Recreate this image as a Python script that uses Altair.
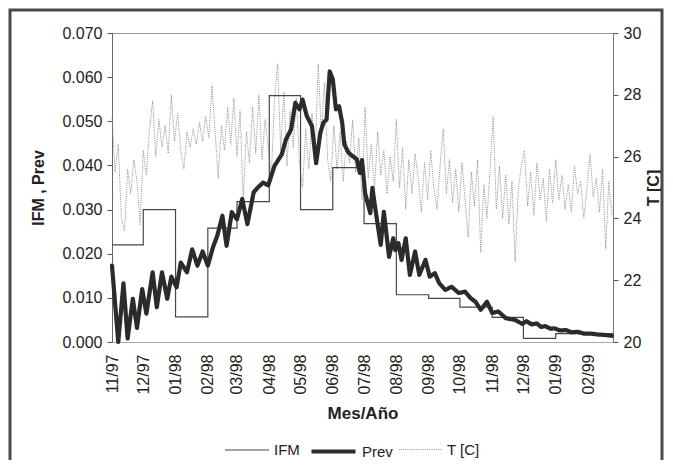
import altair as alt
import pandas as pd

START = pd.Timestamp("1997-11-01")
SERIES = ["IFM", "Prev", "T [C]"]

# IFM: monthly step values (start of each month) + end of record
ifm_dates = ["1997-11-01", "1997-12-01", "1998-01-01", "1998-02-01", "1998-03-01",
             "1998-04-01", "1998-05-01", "1998-06-01", "1998-07-01", "1998-08-01",
             "1998-09-01", "1998-10-01", "1998-11-01", "1998-12-01", "1999-01-01",
             "1999-02-25"]
ifm_values = [0.0220, 0.0300, 0.0057, 0.0258, 0.0318, 0.0558, 0.0300, 0.0395,
              0.0268, 0.0107, 0.0099, 0.0079, 0.0056, 0.0008, 0.0019, 0.0019]

# Prev: day offset from 1997-11-01 and value
prev_days = [0, 6, 11, 15, 20, 24, 29, 33, 39, 43, 48, 53, 57, 62, 66, 72, 77, 82, 87, 92,
             97, 101, 106, 110, 115, 120, 125, 130, 136, 140, 145, 150, 156, 163, 167, 172,
             176, 180, 183, 187, 192, 196, 200, 203, 206, 209, 212, 215, 218, 221, 223, 227,
             231, 235, 238, 240, 243, 248, 250, 253, 258, 261, 266, 270, 272, 275, 278, 282,
             286, 291, 295, 301, 305, 310, 314, 320, 326, 333, 339, 344, 349, 354, 360, 365,
             371, 378, 387,
             394, 398, 403, 408, 412, 416, 421, 425, 430, 436, 441, 447, 453, 460, 466, 473, 480]
prev_values = [0.0173, 0.0000, 0.0133, 0.0008, 0.0098, 0.0032, 0.0120, 0.0064, 0.0158, 0.0079,
               0.0158, 0.0098, 0.0148, 0.0124, 0.0180, 0.0158, 0.0210, 0.0173, 0.0205, 0.0173,
               0.0215, 0.0240, 0.0286, 0.0218, 0.0294, 0.0278, 0.0324, 0.0267, 0.0339, 0.0350,
               0.0361, 0.0355, 0.0399, 0.0425, 0.0459, 0.0482, 0.0542, 0.0527, 0.0549, 0.0512,
               0.0489, 0.0405, 0.0474, 0.0497, 0.0504, 0.0613, 0.0595, 0.0527, 0.0534, 0.0497,
               0.0448, 0.0429,
               0.0421, 0.0414, 0.0383, 0.0412, 0.0337, 0.0292, 0.0349, 0.0299, 0.0220, 0.0295,
               0.0193, 0.0235, 0.0208, 0.0224, 0.0186, 0.0235, 0.0152, 0.0205, 0.0152, 0.0186,
               0.0148, 0.0156, 0.0134, 0.0118, 0.0125, 0.0111, 0.0114, 0.0100, 0.0091, 0.0073,
               0.0091, 0.0066, 0.0069, 0.0054, 0.0050,
               0.0041, 0.0047, 0.0040, 0.0042, 0.0034, 0.0036, 0.0030, 0.0031, 0.0026, 0.0027,
               0.0022, 0.0023, 0.0019, 0.0019, 0.0017, 0.0016, 0.0014]

# T [C]: every third day from 1997-11-01
t_values = [
    27.3, 25.5, 26.4, 24.0, 23.6, 25.6, 24.8, 25.9, 25.2, 23.8, 26.2,
    25.4, 26.9, 27.8, 26.0, 27.2, 26.3, 27.0, 26.1, 28.0, 26.5,
    27.4, 26.2, 25.6, 26.8, 26.3, 26.9, 26.4, 27.1, 26.5, 27.3,
    26.6, 28.3, 26.8, 25.3, 27.0, 26.2, 27.6, 26.4, 27.9,
    26.0, 27.5, 24.6, 26.8, 25.8, 27.6, 26.1, 28.0, 25.9, 27.2, 26.3,
    25.4, 27.8, 29.0, 26.2, 28.1, 25.7, 27.5, 26.3, 27.9, 25.8,
    25.0, 26.9, 25.6, 27.4, 26.0, 29.0, 26.7, 28.4, 25.9, 25.2,
    27.0, 25.6, 26.8, 25.2, 26.5, 25.8, 27.2, 25.5, 26.6, 24.6,
    27.6, 25.3, 26.4, 24.9, 26.8, 25.4, 26.2, 24.8, 26.0, 25.2,
    27.2, 25.0, 26.3, 24.3, 25.9, 24.8, 26.1, 25.3, 24.2, 25.8,
    24.6, 26.2, 25.0, 24.3, 25.7, 26.9, 24.8, 25.9, 24.5, 25.6,
    24.2, 25.8, 24.6, 23.4, 25.5, 24.4, 25.9, 22.9, 25.1, 24.0, 25.6,
    27.3, 24.3, 25.7, 24.0, 25.4, 23.8, 25.2, 22.6, 24.9, 25.7,
    26.2, 24.4, 25.5, 24.1, 25.8, 24.6, 25.3, 23.9, 25.6, 24.5,
    25.9, 24.6, 25.4, 24.3, 25.1, 24.2, 25.7, 24.8, 25.2, 24.0, 25.0,
    26.1, 24.7, 25.3, 24.2, 25.6, 23.0, 25.2, 24.1,
]
t_days = list(range(0, 3 * len(t_values), 3))

month_ticks = [(1997, 11), (1997, 12)] + [(1998, m) for m in range(1, 13)] + [(1999, 1), (1999, 2)]

# ---------------- data frames ----------------
ifm_df = pd.DataFrame({"date": pd.to_datetime(ifm_dates), "value": ifm_values, "serie": "IFM"})
prev_df = pd.DataFrame({"date": START + pd.to_timedelta(prev_days, unit="D"),
                        "value": prev_values, "serie": "Prev"})
t_df = pd.DataFrame({"date": START + pd.to_timedelta(t_days, unit="D"),
                     "temp": t_values, "serie": "T [C]"})

FONT = "Liberation Sans"

x_enc = alt.X(
    "date:T",
    scale=alt.Scale(domain=[alt.DateTime(year=1997, month=11, date=1),
                            alt.DateTime(year=1999, month=2, date=25)]),
    axis=alt.Axis(
        title="Mes/Año", format="%m/%y", labelAngle=270,
        values=[alt.DateTime(year=y, month=m, date=1) for (y, m) in month_ticks],
        ticks=False, labelPadding=12, labelFontSize=16, labelColor="#222",
        titleFontSize=17, titleFontWeight="bold", titlePadding=11, titleColor="#222",
        domainColor="#aaaaaa", grid=False, labelFont=FONT, titleFont=FONT,
    ),
)

color_enc = alt.Color("serie:N", scale=alt.Scale(domain=SERIES, range=["#474747", "#2b2b2b", "#8e8e8e"]),
                      legend=alt.Legend(title=None))
width_enc = alt.StrokeWidth("serie:N", scale=alt.Scale(type="ordinal", domain=SERIES, range=[1.2, 4.2, 1.0]),
                            legend=alt.Legend(title=None))
dash_enc = alt.StrokeDash("serie:N", scale=alt.Scale(domain=SERIES, range=[[1, 0], [1, 0], [1, 1.2]]),
                          legend=alt.Legend(title=None))

left_axis = alt.Axis(
    title="IFM , Prev", orient="left", format=".3f",
    values=[0.0, 0.01, 0.02, 0.03, 0.04, 0.05, 0.06, 0.07],
    tickSize=5, labelPadding=5, labelFontSize=16, labelColor="#222", tickColor="#555",
    domainColor="#666", titleFontSize=16, titleFontWeight="bold", titlePadding=15,
    titleColor="#222", grid=False, labelFont=FONT, titleFont=FONT,
)
right_axis = alt.Axis(
    title="T [C]", orient="right", format="d",
    values=[20, 22, 24, 26, 28, 30],
    tickSize=5, labelPadding=5, labelFontSize=16, labelColor="#222", tickColor="#555",
    domainColor="#777", titleFontSize=16, titleFontWeight="bold", titlePadding=21,
    titleAngle=270, titleColor="#222", grid=False, labelFont=FONT, titleFont=FONT,
)

y_left = alt.Y("value:Q", scale=alt.Scale(domain=[0, 0.07]), axis=left_axis)

ifm = alt.Chart(ifm_df).mark_line(interpolate="step-after").encode(
    x=x_enc, y=y_left, color=color_enc, strokeWidth=width_enc, strokeDash=dash_enc)
prev = alt.Chart(prev_df).mark_line(strokeJoin="round", strokeCap="round").encode(
    x=x_enc, y=y_left, color=color_enc, strokeWidth=width_enc, strokeDash=dash_enc)
temp = alt.Chart(t_df).mark_line().encode(
    x=x_enc,
    y=alt.Y("temp:Q", scale=alt.Scale(domain=[20, 30]), axis=right_axis),
    color=color_enc, strokeWidth=width_enc, strokeDash=dash_enc)

frame = alt.Chart(pd.DataFrame({"k": [0]})).mark_rect(
    fill="transparent", stroke="#4a4a4a", strokeWidth=3
).encode(x=alt.value(-102), x2=alt.value(550), y=alt.value(-23), y2=alt.value(440))

left = alt.layer(ifm, prev)

chart = alt.layer(frame, temp, left).resolve_scale(y="independent").properties(
    width=501, height=309,
    autosize=alt.AutoSizeParams(type="none"),
    padding={"left": 104, "top": 25, "right": 52, "bottom": 118},
    background="white",
).configure(font=FONT).configure_view(
    stroke="#9a9a9a", strokeWidth=1
).configure_legend(
    orient="none", legendX=112, legendY=394, direction="horizontal",
    symbolType="stroke", symbolSize=1936, labelFontSize=15, labelColor="#222",
    labelFont=FONT, labelOffset=4, columnPadding=3, padding=0, gridAlign="none",
)

chart.save("out.html", embed_options={"renderer": "svg", "actions": False})
